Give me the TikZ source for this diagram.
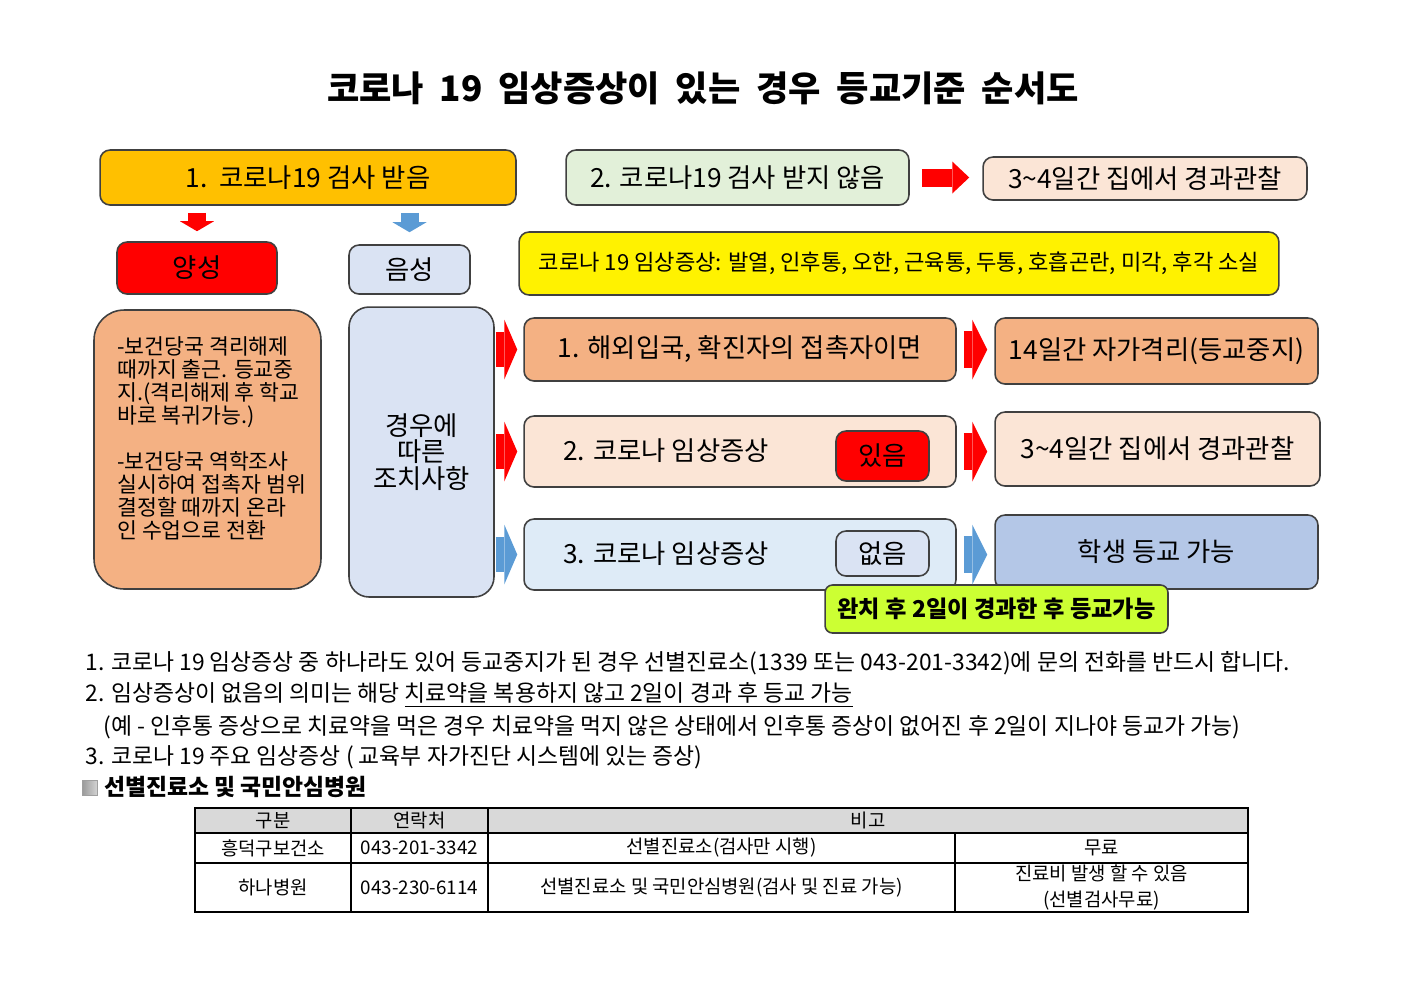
\documentclass[tikz,border=0pt]{standalone}
\usepackage{fontspec}
\setmainfont{Noto Sans CJK KR}
\usetikzlibrary{arrows.meta}

\definecolor{boxline}{RGB}{64,64,64}
\definecolor{gold}{RGB}{255,192,0}
\definecolor{mint}{RGB}{226,240,217}
\definecolor{peach}{RGB}{251,229,214}
\definecolor{salmon}{RGB}{244,177,131}
\definecolor{paleblue}{RGB}{218,227,243}
\definecolor{iceblue}{RGB}{222,235,247}
\definecolor{skyblue}{RGB}{180,199,231}
\definecolor{lime}{RGB}{204,255,51}
\definecolor{arrowblue}{RGB}{91,155,213}
\definecolor{headgray}{RGB}{217,217,217}

\newcommand\widespace{\spaceskip=9pt\relax}

\begin{document}
\begin{tikzpicture}[x=0.02cm,y=-0.02cm,
  box/.style={draw=boxline,line width=0.9pt,rounded corners=0.2cm,align=center,inner sep=0pt,
    font=\fontsize{15}{18}\selectfont},
  fat/.style args={#1/#2/#3}{line width=#1,-{Triangle[length=#3,width=#2,line width=0pt]}},
  note/.style={anchor=west,inner sep=0pt,font=\fontsize{13}{15}\selectfont},
  cell/.style={inner sep=0pt,align=center,font=\fontsize{10.7}{15}\selectfont}]

  \useasboundingbox (0,0) rectangle (1403,992);

  \node[font=\bfseries\fontsize{20}{24}\selectfont] (title) at (703,88)
    {\widespace 코로나 19 임상증상이 있는 경우 등교기준 순서도};

  \node[box,fill=gold,minimum width=8.32cm,minimum height=1.1cm] (test) at (308,177.5) {1.\ \ 코로나19 검사 받음};
  \node[box,fill=mint,minimum width=6.86cm,minimum height=1.1cm] (notest) at (737.5,177.5) {2. 코로나19 검사 받지 않음};
  \node[box,fill=peach,minimum width=6.48cm,minimum height=0.86cm] (home) at (1145,178.5) {3\textasciitilde4일간 집에서 경과관찰};

  \node[box,fill=red,minimum width=3.2cm,minimum height=1.04cm] (pos) at (197,268) {양성};
  \node[box,fill=paleblue,minimum width=2.42cm,minimum height=0.98cm] (neg) at (409.5,269.5) {음성};
  \node[box,fill=yellow,minimum width=15.2cm,minimum height=1.26cm,font=\fontsize{12.6}{15}\selectfont] (symptom) at (899,263.5)
    {코로나 19 임상증상: 발열, 인후통, 오한, 근육통, 두통, 호흡곤란, 미각, 후각 소실};

  \node[box,fill=salmon,minimum width=4.54cm,minimum height=5.58cm,rounded corners=0.6cm] (posact) at (207.5,449.5) {};
  \node[anchor=west,align=left,inner sep=0pt,font=\fontsize{12.3}{13.1}\selectfont] (posnote) at (117,438.5)
    {-보건당국 격리해제\\때까지 출근. 등교중\\지.(격리해제 후 학교\\바로 복귀가능.)\\[13.1pt]
     -보건당국 역학조사\\실시하여 접촉자 범위\\결정할 때까지 온라\\인 수업으로 전환};

  \node[box,fill=paleblue,minimum width=2.9cm,minimum height=5.8cm,rounded corners=0.4cm,
    font=\fontsize{15}{15.1}\selectfont] (action) at (421.5,452) {경우에\\따른\\조치사항};

  \node[box,fill=salmon,minimum width=8.64cm,minimum height=1.26cm] (r1) at (740,349.5) {1. 해외입국, 확진자의 접촉자이면};
  \node[box,fill=salmon,minimum width=6.46cm,minimum height=1.32cm] (s1) at (1156.5,351) {14일간 자가격리(등교중지)};

  \node[box,fill=peach,minimum width=8.64cm,minimum height=1.42cm] (r2) at (740,451.5) {};
  \node[anchor=west,inner sep=0pt,font=\fontsize{15}{18}\selectfont] (r2txt) at (563,451) {2. 코로나 임상증상};
  \node[box,fill=red,minimum width=1.86cm,minimum height=1.0cm] (yes) at (882.5,456) {있음};
  \node[box,fill=peach,minimum width=6.5cm,minimum height=1.48cm] (s2) at (1157.5,449) {3\textasciitilde4일간 집에서 경과관찰};

  \node[box,fill=iceblue,minimum width=8.64cm,minimum height=1.42cm] (r3) at (740,554.5) {};
  \node[anchor=west,inner sep=0pt,font=\fontsize{15}{18}\selectfont] (r3txt) at (563,554) {3. 코로나 임상증상};
  \node[box,fill=paleblue,minimum width=1.86cm,minimum height=0.9cm] (no) at (882.5,553.5) {없음};
  \node[box,fill=skyblue,minimum width=6.46cm,minimum height=1.48cm] (s3) at (1156.5,552) {학생 등교 가능};

  \node[box,fill=lime,minimum width=6.86cm,minimum height=0.96cm,rounded corners=0.15cm,
    font=\bfseries\fontsize{13.2}{15}\selectfont] (cured) at (996.5,609) {완치 후 2일이 경과한 후 등교가능};

  \draw[red,fat=0.36cm/0.68cm/0.2cm,shorten <=0.14cm,shorten >=0.2cm] (test.south -| pos) -- (pos.north);
  \draw[arrowblue,fat=0.36cm/0.68cm/0.2cm,shorten <=0.14cm,shorten >=0.24cm] (test.south -| neg) -- (neg.north);
  \draw[red,fat=0.36cm/0.64cm/0.34cm,shorten <=0.24cm,shorten >=0.26cm] (notest.east) -- (notest.east -| home.west);

  \path[red,fat=0.7cm/1.2cm/0.26cm,shorten <=0.02cm,shorten >=0.12cm]
    (action.east |- r1) edge (r1.west)
    (action.east |- r2) edge (r2.west);
  \path[arrowblue,fat=0.7cm/1.2cm/0.26cm,shorten <=0.02cm,shorten >=0.12cm]
    (action.east |- r3) edge (r3.west);
  \path[red,fat=0.74cm/1.2cm/0.3cm,shorten <=0.14cm,shorten >=0.14cm]
    (r1.east) edge (r1.east -| s1.west)
    (r2.east) edge (r2.east -| s2.west);
  \path[arrowblue,fat=0.74cm/1.2cm/0.3cm,shorten <=0.14cm,shorten >=0.14cm]
    (r3.east) edge (r3.east -| s3.west);

  \node[note] (n1) at (85,663) {1. 코로나 19 임상증상 중 하나라도 있어 등교중지가 된 경우 선별진료소(1339 또는 043-201-3342)에 문의 전화를 반드시 합니다.};
  \node[note] (n2) at (85,695) {2. 임상증상이 없음의 의미는 해당 \underline{치료약을 복용하지 않고 2일이 경과 후 등교 가능}};
  \node[note] (n2b) at (103,727) {(예 - 인후통 증상으로 치료약을 먹은 경우 치료약을 먹지 않은 상태에서 인후통 증상이 없어진 후 2일이 지나야 등교가 가능)};
  \node[note] (n3) at (85,757) {3. 코로나 19 주요 임상증상 ( 교육부 자가진단 시스템에 있는 증상)};
  \node[left color=gray!80,right color=gray!35,draw=gray!75,minimum size=0.3cm,inner sep=0pt] (bullet) at (89.5,787.5) {};
  \node[note,font=\bfseries\fontsize{13}{15}\selectfont] (clinic) at (104,787) {선별진료소 및 국민안심병원};

  \draw[line width=0.6pt,fill=headgray] (195,808) rectangle (1248,833);
  \draw[line width=0.6pt] (195,808) rectangle (1248,912);
  \foreach \y in {833,863} \draw[line width=0.6pt] (195,\y) -- (1248,\y);
  \foreach \x in {351,488} \draw[line width=0.6pt] (\x,808) -- (\x,912);
  \draw[line width=0.6pt] (955,833) -- (955,912);

  \node[cell] (h1) at (273,820.5) {구분};
  \node[cell] (h2) at (419.5,820.5) {연락처};
  \node[cell] (h3) at (868,820.5) {비고};
  \node[cell] (a1) at (273,848) {흥덕구보건소};
  \node[cell] (a2) at (419.5,848) {043-201-3342};
  \node[cell] (a3) at (721.5,848) {선별진료소(검사만 시행)};
  \node[cell] (a4) at (1101.5,848) {무료};
  \node[cell] (b1) at (273,887.5) {하나병원};
  \node[cell] (b2) at (419.5,887.5) {043-230-6114};
  \node[cell] (b3) at (721.5,887.5) {선별진료소 및 국민안심병원(검사 및 진료 가능)};
  \node[cell,font=\fontsize{10.7}{14.7}\selectfont] (b4) at (1101.5,887.5) {진료비 발생 할 수 있음\\(선별검사무료)};
\end{tikzpicture}
\end{document}
